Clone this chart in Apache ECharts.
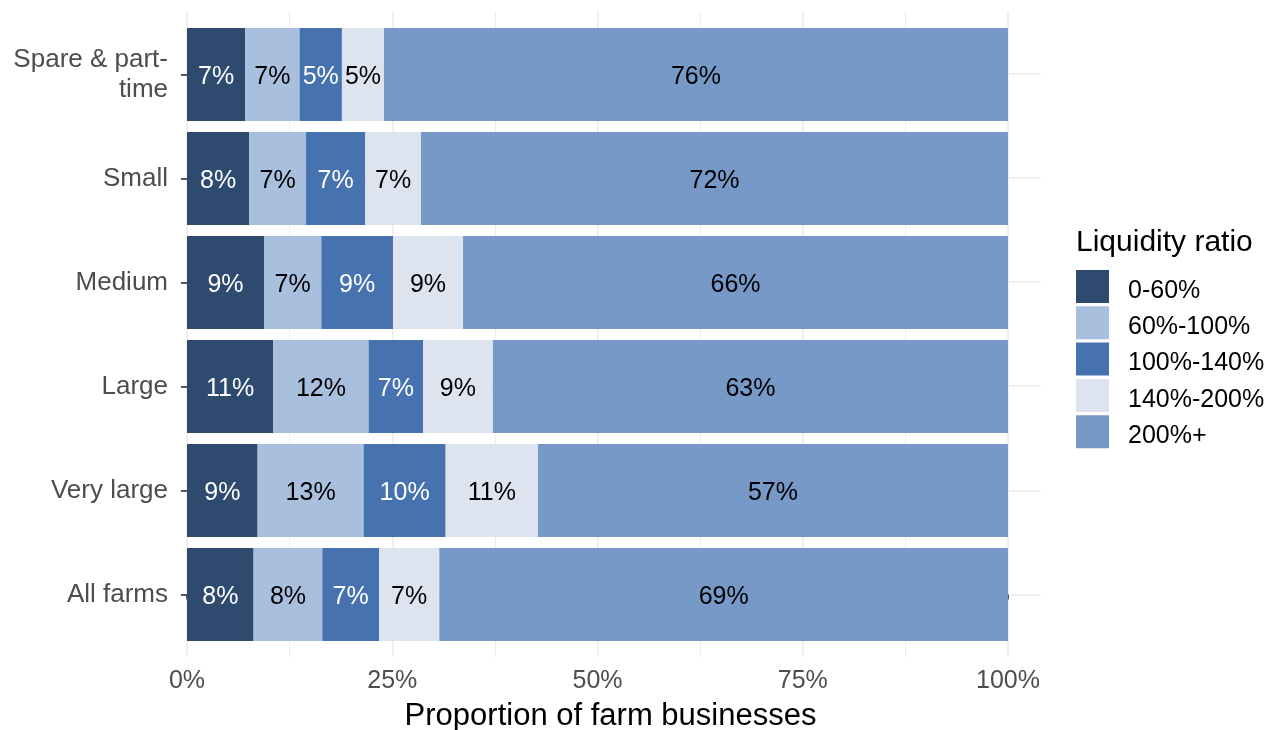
<!DOCTYPE html>
<html>
<head>
<meta charset="utf-8">
<script src="https://cdn.jsdelivr.net/npm/echarts@6/dist/echarts.min.js"></script>
<style>
  html, body { margin: 0; padding: 0; background: #ffffff; }
  #chart { width: 1273px; height: 730px; }
</style>
</head>
<body>
<div id="chart"></div>
<script>
// Categories, top to bottom
const categories = ['Spare & part-\ntime', 'Small', 'Medium', 'Large', 'Very large', 'All farms'];
// Liquidity ratio bands (legend order)
const bands = ['0-60%', '60%-100%', '100%-140%', '140%-200%', '200%+'];
// Share of farm businesses (%) per band, same order as categories
const band0to60    = [7.10, 7.59, 9.38, 10.51, 8.60, 8.11];
const band60to100  = [6.61, 6.91, 6.98, 11.61, 12.91, 8.37];
const band100to140 = [5.16, 7.22, 8.73, 6.63, 9.99, 6.91];
const band140to200 = [5.12, 6.78, 8.53, 8.50, 11.25, 7.34];
const band200plus  = [76.01, 71.50, 66.38, 62.75, 57.25, 69.27];
// Axis ticks
const xTicks = [0, 25, 50, 75, 100];
const xMinorTicks = [12.5, 37.5, 62.5, 87.5];
const yCenters = [0, 1, 2, 3, 4, 5];

const seriesValues = [band0to60, band60to100, band100to140, band140to200, band200plus];
const colors = ['#2E4A6E', '#A9BFDE', '#4672AF', '#DDE4EF', '#7799C8'];
const labelColors = ['#ffffff', '#000000', '#ffffff', '#000000', '#000000'];

const FONT = 'Liberation Sans, Arial, sans-serif';
const X_MIN = -0.853, X_MAX = 104.02;

const chart = echarts.init(document.getElementById('chart'), null, { renderer: 'canvas' });

const gridBase = { left: 180, width: 861, containLabel: false, outerBoundsMode: 'none' };

const option = {
  backgroundColor: '#ffffff',
  animation: false,
  textStyle: { fontFamily: FONT },
  title: {
    text: 'Liquidity ratio',
    left: 1076,
    top: 228,
    padding: 0,
    textStyle: { fontFamily: FONT, fontSize: 30, fontWeight: 'normal', color: '#000000' }
  },
  legend: {
    orient: 'vertical',
    left: 1076,
    top: 270,
    padding: 0,
    itemWidth: 33,
    itemHeight: 33,
    itemGap: 2.8,
    icon: 'rect',
    data: bands,
    selectedMode: false,
    formatter: '{t|{name}}',
    textStyle: {
      fontFamily: FONT, fontSize: 25, color: '#000000',
      rich: { t: { fontFamily: FONT, fontSize: 25, color: '#000000', padding: [9, 0, 0, 14] } }
    }
  },
  grid: [
    Object.assign({ top: 11, height: 646 }, gridBase),
    Object.assign({ top: 22.5, height: 624 }, gridBase),
    Object.assign({ top: 11, height: 646 }, gridBase)
  ],
  xAxis: [
    {
      gridIndex: 0, type: 'value', min: X_MIN, max: X_MAX, position: 'bottom',
      axisLine: { show: false },
      axisTick: { show: true, length: 5, customValues: xTicks, lineStyle: { color: '#333333', width: 1.6 } },
      axisLabel: { customValues: xTicks, formatter: v => v + '%', fontFamily: FONT, fontSize: 25, color: '#4d4d4d', margin: 12 },
      splitLine: { show: true, lineStyle: { color: '#ebebeb', width: 1.6 } },
      name: 'Proportion of farm businesses',
      nameLocation: 'middle',
      nameGap: 44,
      nameTextStyle: { fontFamily: FONT, fontSize: 31, color: '#000000' }
    },
    {
      gridIndex: 2, type: 'value', min: X_MIN, max: X_MAX, position: 'bottom',
      axisLine: { show: false },
      axisTick: { show: false, customValues: xMinorTicks },
      axisLabel: { show: false },
      splitLine: { show: true, lineStyle: { color: '#ebebeb', width: 0.9 } }
    },
    {
      gridIndex: 1, type: 'value', min: X_MIN, max: X_MAX, show: false,
      axisTick: { show: false }, axisLabel: { show: false }, axisLine: { show: false },
      splitLine: { show: false }
    }
  ],
  yAxis: [
    {
      gridIndex: 0, type: 'value', min: -0.6, max: 5.6,
      axisLine: { show: false },
      axisTick: { show: false, customValues: yCenters },
      axisLabel: { show: false },
      splitLine: { show: true, lineStyle: { color: '#ebebeb', width: 1.6 } }
    },
    {
      gridIndex: 1, type: 'category', inverse: true, data: categories,
      axisLine: { show: false },
      axisTick: { show: true, alignWithLabel: true, interval: 0, length: 6, lineStyle: { color: '#333333', width: 1.6 } },
      axisLabel: { interval: 0, margin: 12, fontFamily: FONT, fontSize: 26, lineHeight: 30, color: '#4d4d4d', align: 'right', padding: [7, 0, 0, 0] },
      splitLine: { show: false }
    },
    {
      gridIndex: 2, type: 'value', min: 0, max: 1, show: false,
      axisTick: { show: false }, axisLabel: { show: false }, axisLine: { show: false },
      splitLine: { show: false }
    }
  ],
  series: bands.map((name, i) => ({
    name: name,
    type: 'bar',
    stack: 'total',
    xAxisIndex: 2,
    yAxisIndex: 1,
    barWidth: 93,
    itemStyle: { color: colors[i] },
    label: {
      show: true,
      position: 'inside',
      offset: [0, 2.5],
      formatter: p => Math.round(p.value) + '%',
      fontFamily: FONT,
      fontSize: 25,
      color: labelColors[i]
    },
    data: seriesValues[i]
  }))
};

chart.setOption(option);
</script>
</body>
</html>
